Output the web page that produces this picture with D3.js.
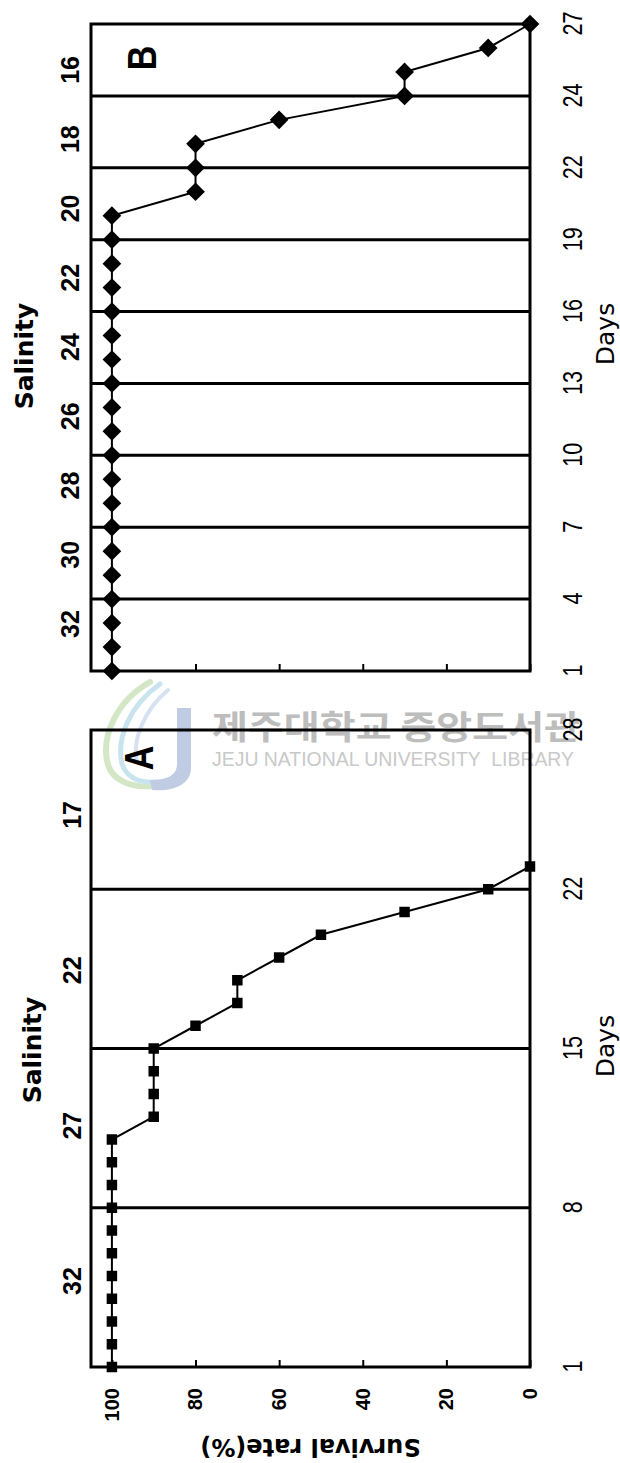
<!DOCTYPE html>
<html>
<head>
<meta charset="utf-8">
<script src="https://cdn.jsdelivr.net/npm/d3@7"></script>
<style>
  body { margin: 0; background: #fff; }
  svg { display: block; }
</style>
</head>
<body>
<svg id="fig" width="620" height="1463"></svg>
<script>
// ---- Panel A: salinity lowered by 5 every 7 days ----
const daysA = [1, 2, 3, 4, 5, 6, 7, 8, 9, 10, 11, 12, 13, 14, 15, 16, 17, 18, 19, 20, 21, 22, 23];
const survivalA = [100, 100, 100, 100, 100, 100, 100, 100, 100, 100, 100,
                   90, 90, 90, 90, 80, 70, 70, 60, 50, 30, 10, 0];
const dayTicksA = [1, 8, 15, 22, 29];
const dayTickLabelsA = ["1", "8", "15", "22", "28"];
const salinityA = ["32", "27", "22", "17"];
const salinityStepsA = [8, 15, 22];

// ---- Panel B: salinity lowered by 2 every 3 days ----
const daysB = [1, 2, 3, 4, 5, 6, 7, 8, 9, 10, 11, 12, 13, 14, 15, 16, 17, 18, 19, 20,
               21, 22, 23, 24, 25, 26, 27, 28];
const survivalB = [100, 100, 100, 100, 100, 100, 100, 100, 100, 100,
                   100, 100, 100, 100, 100, 100, 100, 100, 100, 100,
                   80, 80, 80, 60, 30, 30, 10, 0];
const dayTicksB = [1, 4, 7, 10, 13, 16, 19, 22, 25, 28];
const dayTickLabelsB = ["1", "4", "7", "10", "13", "16", "19", "22", "24", "27"];
const salinityB = ["32", "30", "28", "26", "24", "22", "20", "18", "16"];
const salinityStepsB = [4, 7, 10, 13, 16, 19, 22, 25];

const survivalTicks = [0, 20, 40, 60, 80, 100];

// The figure is laid out landscape and turned a quarter turn counter-clockwise.
const FW = 1463, FH = 620;
const SANS = "'Liberation Sans', Arial, sans-serif";
const DEJAVU = "'DejaVu Sans', sans-serif";
const svg = d3.select("#fig");

// ---- library watermark (sits behind the figure) ----
const wm = svg.append("g").attr("class", "watermark");
wm.append("path")
  .attr("d", "M150,682 C118,700 100,735 108,765 C113,780 130,788 152,786")
  .attr("fill", "none").attr("stroke", "#d3e6c6").attr("stroke-width", 6).attr("stroke-linecap", "round");
wm.append("path")
  .attr("d", "M160,684 C130,705 116,738 122,764 C127,778 140,783 156,782")
  .attr("fill", "none").attr("stroke", "#c9e4ee").attr("stroke-width", 5).attr("stroke-linecap", "round");
wm.append("path")
  .attr("d", "M168,690 C144,710 132,740 137,762")
  .attr("fill", "none").attr("stroke", "#d6e2f1").attr("stroke-width", 4).attr("stroke-linecap", "round");
wm.append("path")
  .attr("d", "M177,708 L191,708 L191,768 C191,784 174,792 152,790 L150,780 C168,780 177,775 177,764 Z")
  .attr("fill", "#bfcce4");
wm.append("text")
  .attr("x", 212).attr("y", 739)
  .attr("textLength", 368).attr("lengthAdjust", "spacingAndGlyphs")
  .style("font-family", "'Noto Sans CJK KR', sans-serif").style("font-weight", 700)
  .style("font-size", "33px").attr("fill", "#bdbdbd")
  .text("제주대학교 중앙도서관");
wm.append("text")
  .attr("x", 212).attr("y", 766)
  .attr("textLength", 362).attr("lengthAdjust", "spacingAndGlyphs")
  .style("font-family", SANS).style("font-size", "20px").attr("fill", "#c9c9c9")
  .style("white-space", "pre")
  .text("JEJU NATIONAL UNIVERSITY  LIBRARY");

// ---- figure ----
const fig = svg.append("g").attr("transform", `translate(0,${FW}) rotate(-90)`);

const y = d3.scaleLinear().domain([0, 105]).range([530, 91]);
const [yBottom, yTop] = y.range();

const panels = [
  { name: "A", days: daysA, values: survivalA, ticks: dayTicksA, tickLabels: dayTickLabelsA,
    salinity: salinityA, steps: salinityStepsA, domain: [1, 29], range: [96, 733], salPad: 0.55,
    marker: "square", showSurvivalLabels: true, titleX: 413, titleBase: 41, salBase: 81,
    daysX: 417, letterX: 705, letterBase: 153 },
  { name: "B", days: daysB, values: survivalB, ticks: dayTicksB, tickLabels: dayTickLabelsB,
    salinity: salinityB, steps: salinityStepsB, domain: [1, 28], range: [792, 1439], salPad: 0.67,
    marker: "diamond", showSurvivalLabels: false, titleX: 1107, titleBase: 33, salBase: 79,
    daysX: 1129, letterX: 1405, letterBase: 156 }
];

panels.forEach(p => {
  const x = d3.scaleLinear().domain(p.domain).range(p.range);
  const g = fig.append("g").attr("class", "panel-" + p.name);

  // salinity change lines
  g.selectAll("line.step").data(p.steps).join("line")
    .attr("class", "step")
    .attr("x1", d => x(d)).attr("x2", d => x(d))
    .attr("y1", yBottom).attr("y2", yTop)
    .attr("stroke", "#000").attr("stroke-width", 3);

  // inward survival ticks
  const tk = g.append("g")
    .attr("transform", `translate(${p.range[0]},0)`)
    .call(d3.axisRight(y).tickValues(survivalTicks).tickSize(7).tickFormat(""));
  tk.select(".domain").remove();
  tk.selectAll("line").attr("stroke", "#000").attr("stroke-width", 2);

  // plot frame
  g.append("rect")
    .attr("x", p.range[0]).attr("y", yTop)
    .attr("width", p.range[1] - p.range[0]).attr("height", yBottom - yTop)
    .attr("fill", "none").attr("stroke", "#000").attr("stroke-width", 3);

  // survival curve
  const pts = p.days.map((d, i) => [d, p.values[i]]);
  g.append("path")
    .datum(pts)
    .attr("fill", "none").attr("stroke", "#000").attr("stroke-width", 2)
    .attr("d", d3.line().x(d => x(d[0])).y(d => y(d[1])));

  const sym = p.marker === "square"
    ? d3.symbol(d3.symbolSquare, 110)
    : d3.symbol(d3.symbolSquare, 175);
  g.selectAll("path.mk").data(pts).join("path")
    .attr("class", "mk")
    .attr("d", sym)
    .attr("fill", "#000")
    .attr("transform", d => `translate(${x(d[0])},${y(d[1])})` + (p.marker === "diamond" ? " rotate(45)" : ""));

  // day labels
  const ax = g.append("g")
    .attr("transform", `translate(0,582)`)
    .call(d3.axisBottom(x).tickValues(p.ticks).tickFormat((d, i) => p.tickLabels[i]).tickSize(0).tickPadding(0));
  ax.select(".domain").remove();
  ax.selectAll("text").attr("y", 0).attr("dy", 0).attr("x", 0).attr("fill", "#000")
    .style("font-family", SANS).style("font-size", "27px")
    .attr("transform", "scale(0.8,1)");

  g.append("text")
    .attr("x", p.daysX).attr("y", 614)
    .attr("text-anchor", "middle")
    .style("font-family", DEJAVU).style("font-size", "25px")
    .text("Days");

  // salinity labels along the top
  const s = d3.scalePoint().domain(p.salinity).range(p.range).padding(p.salPad);
  const sx = g.append("g")
    .attr("transform", `translate(0,${p.salBase})`)
    .call(d3.axisTop(s).tickSize(0).tickPadding(0));
  sx.select(".domain").remove();
  sx.selectAll("text").attr("y", 0).attr("dy", 0).attr("fill", "#000")
    .style("font-family", SANS).style("font-size", "25px").style("font-weight", "bold");

  g.append("text")
    .attr("x", p.titleX).attr("y", p.titleBase)
    .attr("text-anchor", "middle")
    .style("font-family", DEJAVU).style("font-weight", "bold").style("font-size", "25px")
    .text("Salinity");

  // panel letter
  g.append("text")
    .attr("x", p.letterX).attr("y", p.letterBase)
    .attr("text-anchor", "middle")
    .style("font-family", SANS).style("font-weight", "bold").style("font-size", "40px")
    .attr("transform", `translate(${p.letterX},0) scale(0.85,1) translate(${-p.letterX},0)`)
    .text(p.name);

  // survival axis labels (shared, drawn on panel A)
  if (p.showSurvivalLabels) {
    const la = g.append("g")
      .attr("transform", `translate(${p.range[0]},0)`)
      .call(d3.axisLeft(y).tickValues(survivalTicks).tickSize(0).tickPadding(21));
    la.select(".domain").remove();
    la.selectAll("text").attr("fill", "#000")
      .style("font-family", SANS).style("font-size", "20px").style("font-weight", "bold");

    g.append("text")
      .attr("transform", `translate(24,${(yTop + yBottom) / 2}) rotate(-90)`)
      .attr("text-anchor", "middle")
      .style("font-family", DEJAVU).style("font-weight", "bold").style("font-size", "24px")
      .text("Survival rate(%)");
  }
});
</script>
</body>
</html>
